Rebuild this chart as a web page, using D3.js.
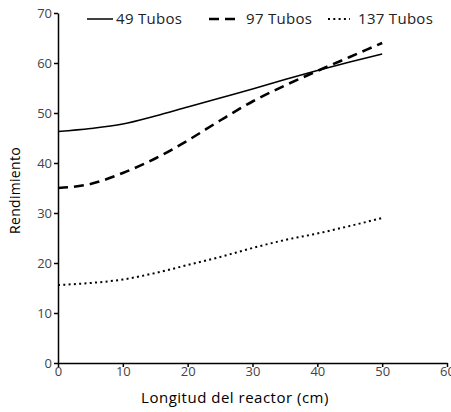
<!DOCTYPE html>
<html>
<head>
<meta charset="utf-8">
<script src="https://cdn.jsdelivr.net/npm/d3@7"></script>
<style>
  body { margin: 0; background: #fff; }
  svg { font-family: "Open Sans", "Noto Sans", sans-serif; }
</style>
</head>
<body>
<svg id="chart" width="451" height="412"></svg>
<script>
// Chart data
var longitud = [0, 5, 10, 15, 20, 25, 30, 35, 40, 45, 50];
var tubos49 = [46.3, 46.9, 47.8, 49.4, 51.2, 53.0, 54.8, 56.7, 58.5, 60.2, 61.8];
var tubos97 = [35.0, 35.8, 38.0, 40.9, 44.5, 48.5, 52.3, 55.5, 58.4, 61.2, 64.0];
var tubos137 = [15.6, 16.0, 16.7, 18.0, 19.6, 21.2, 23.0, 24.6, 25.9, 27.4, 29.0];
var seriesNames = ['49 Tubos', '97 Tubos', '137 Tubos'];
var xTicks = [0, 10, 20, 30, 40, 50, 60];
var yTicks = [0, 10, 20, 30, 40, 50, 60, 70];

var svg = d3.select('#chart');

var x = d3.scaleLinear().domain([0, 60]).range([58, 447]);
var y = d3.scaleLinear().domain([0, 70]).range([363, 13]);

// Axes
var xAxis = svg.append('g')
    .attr('transform', 'translate(0,' + y(0) + ')')
    .call(d3.axisBottom(x).tickValues(xTicks).tickSize(4).tickSizeOuter(0));
var yAxis = svg.append('g')
    .attr('transform', 'translate(' + x(0) + ',0)')
    .call(d3.axisLeft(y).tickValues(yTicks).tickSize(4).tickSizeOuter(0));

[xAxis, yAxis].forEach(function(ax) {
    ax.select('.domain').attr('stroke', '#000').attr('stroke-width', 1.5);
    ax.selectAll('.tick line').attr('stroke', '#000').attr('stroke-width', 1.5);
    ax.selectAll('.tick text').attr('fill', '#444').style('font-size', '13px')
        .style('font-family', '"Open Sans", "Noto Sans", sans-serif');
});
xAxis.selectAll('.tick text').attr('y', 4).attr('dy', '0.71em');
yAxis.selectAll('.tick text').attr('x', -6);

// Axis titles
svg.append('text')
    .attr('x', 235).attr('y', 403)
    .attr('text-anchor', 'middle')
    .style('font-size', '15px')
    .style('letter-spacing', '0.5px')
    .text('Longitud del reactor (cm)');

svg.append('text')
    .attr('transform', 'translate(20,' + y(34.5) + ') rotate(-90)')
    .attr('text-anchor', 'middle')
    .style('font-size', '14px')
    .style('letter-spacing', '0.3px')
    .text('Rendimiento');

// Lines
var styles = [
    { width: 1.5, dash: null },
    { width: 2.6, dash: '10,6' },
    { width: 2, dash: '2,3.3' }
];
var allSeries = [tubos49, tubos97, tubos137];

var line = d3.line()
    .x(function(d, i) { return x(longitud[i]); })
    .y(function(d) { return y(d); })
    .curve(d3.curveMonotoneX);

allSeries.forEach(function(values, i) {
    svg.append('path')
        .datum(values)
        .attr('fill', 'none')
        .attr('stroke', '#000')
        .attr('stroke-width', styles[i].width)
        .attr('stroke-dasharray', styles[i].dash)
        .attr('d', line);
});

// Legend
var legendX = [87, 209, 328];
var legendLen = [26, 26, 22];
var legendGap = [29, 37, 30];
seriesNames.forEach(function(name, i) {
    var g = svg.append('g').attr('transform', 'translate(' + legendX[i] + ',19)');
    g.append('line')
        .attr('x1', 0).attr('x2', legendLen[i])
        .attr('y1', 0).attr('y2', 0)
        .attr('stroke', '#000')
        .attr('stroke-width', styles[i].width)
        .attr('stroke-dasharray', styles[i].dash);
    g.append('text')
        .attr('x', legendGap[i])
        .attr('y', 0)
        .attr('dy', '0.35em')
        .attr('fill', '#222')
        .style('font-size', '15px')
        .style('letter-spacing', '0.3px')
        .text(name);
});
</script>
</body>
</html>
